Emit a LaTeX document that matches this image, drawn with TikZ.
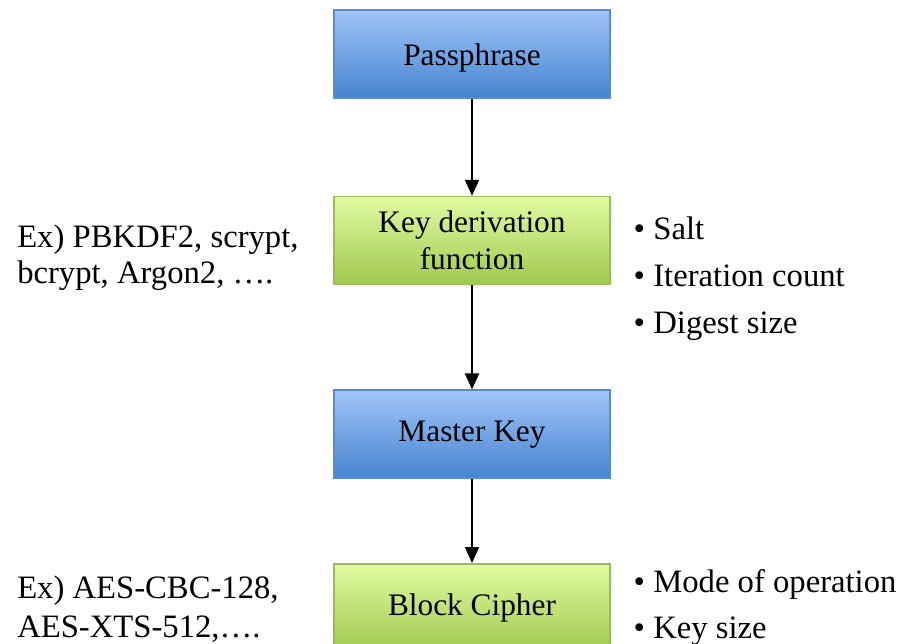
\documentclass[tikz,border=0pt]{standalone}
\usepackage{fontspec}
\setmainfont{Liberation Serif}
\usetikzlibrary{arrows.meta,positioning}
\definecolor{BlueTop}{HTML}{A0C5F9}
\definecolor{BlueBot}{HTML}{4683CF}
\definecolor{BlueLine}{HTML}{5B8BCB}
\definecolor{GreenTop}{HTML}{E0FBA2}
\definecolor{GreenBot}{HTML}{A0C94E}
\definecolor{GreenLine}{HTML}{9BBB59}

\begin{document}
\begin{tikzpicture}[
    x=0.75pt, y=-0.75pt,
    font=\fontsize{23.5}{28}\selectfont,
    bluebox/.style={draw=BlueLine, line width=1.2pt, top color=BlueTop, bottom color=BlueBot, align=center, minimum width=207pt, minimum height=66pt},
    greenbox/.style={draw=GreenLine, line width=1.2pt, top color=GreenTop, bottom color=GreenBot, align=center, minimum width=207pt, minimum height=66pt},
    note/.style={align=left, inner sep=0pt},
    arr/.style={-{Triangle[length=12pt, width=10.5pt]}, line width=1.5pt}
]
\useasboundingbox (0,0) rectangle (903,643);

% boxes down the middle
\node[bluebox, text height=22pt] (pass) at (472,54) {Passphrase};
\node[greenbox, below=72.75pt of pass] (kdf) {Key derivation\\function};
\node[bluebox, below=78pt of kdf] (master) {Master Key};
\node[greenbox, below=63pt of master] (cipher) {Block Cipher};

% arrows
\draw[arr] (pass) -- (kdf);
\draw[arr] (kdf) -- (master);
\draw[arr] (master) -- (cipher);

% side notes
\node[note, anchor=north west, font=\fontsize{24.5}{26.5}\selectfont] (kdfex) at (17,225) {Ex) PBKDF2, scrypt,\\bcrypt, Argon2, \dots.};
\node[note, anchor=north west, font=\fontsize{24.5}{35.25}\selectfont] (kdfparams) at ([xshift=17pt, yshift=-15.5pt]kdf.north east) {\textbullet\ Salt\\\textbullet\ Iteration count\\\textbullet\ Digest size};
\node[note, anchor=north west, font=\fontsize{24.5}{29.25}\selectfont] (cipherex) at (17,575.5) {Ex) AES-CBC-128,\\AES-XTS-512,\dots.};
\node[note, anchor=north west, font=\fontsize{24.5}{34.5}\selectfont] (cipherparams) at ([xshift=17pt, yshift=-4.3pt]cipher.north east) {\textbullet\ Mode of operation\\\textbullet\ Key size};
\end{tikzpicture}
\end{document}
